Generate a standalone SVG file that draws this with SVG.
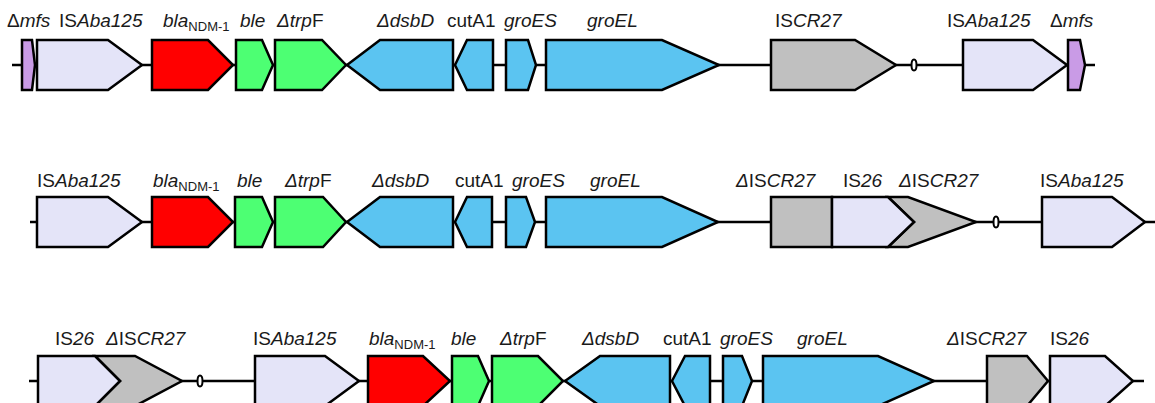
<svg xmlns="http://www.w3.org/2000/svg" width="1155" height="403" viewBox="0 0 1155 403">
<style>
.g{stroke:#000;stroke-width:2.5;stroke-linejoin:miter}
.lav{fill:#E4E4F8}.red{fill:#FF0000}.grn{fill:#4DFF73}.blu{fill:#5BC4F1}.gry{fill:#C0C0C0}.pur{fill:#C99BE6}
.bb{stroke:#000;stroke-width:2.5;fill:none}
.ov{fill:#fff;stroke:#000;stroke-width:2}
text{font-family:"Liberation Sans",Arial,sans-serif;font-size:19px;fill:#1a1a1a}
.i{font-style:italic}
.sub{font-size:13px}
</style>
<rect width="1155" height="403" fill="#fff"/>
<g id="connectors">
<line class="bb" x1="12" y1="65" x2="1095" y2="65"/>
<line class="bb" x1="30" y1="222" x2="1155" y2="222"/>
<line class="bb" x1="29" y1="381" x2="1144" y2="381"/>
<ellipse class="ov" cx="914" cy="65" rx="2.5" ry="5.5"/>
<ellipse class="ov" cx="996" cy="222" rx="2.5" ry="5.5"/>
<ellipse class="ov" cx="200" cy="381" rx="2.5" ry="5.5"/>
</g>
<!-- Row 1 -->
<g id="r1-mfs-a"><polygon class="g pur" points="22,40 32,40 35,65 32,90 22,90"/><text x="7" y="27"><tspan>Δ</tspan><tspan class="i">mfs</tspan></text></g>
<g id="r1-isaba125-a"><polygon class="g lav" points="37,40 108,40 142,65 108,90 37,90"/><text x="59" y="27">IS<tspan class="i">Aba125</tspan></text></g>
<g id="r1-bla"><polygon class="g red" points="152,40 208,40 233,65 208,90 152,90"/><text x="163" y="27"><tspan class="i">bla</tspan><tspan class="sub" dy="4">NDM-1</tspan></text></g>
<g id="r1-ble"><polygon class="g grn" points="236,40 262,40 273,65 262,90 236,90"/><text x="240" y="27" class="i">ble</text></g>
<g id="r1-trpF"><polygon class="g grn" points="275,40 322,40 346,65 322,90 275,90"/><text x="277" y="27"><tspan class="i">Δtrp</tspan>F</text></g>
<g id="r1-dsbD"><polygon class="g blu" points="347,65 380,40 453,40 453,90 380,90"/><text x="377" y="27" class="i">ΔdsbD</text></g>
<g id="r1-cutA1"><polygon class="g blu" points="455,65 467,40 493,40 493,90 467,90"/><text x="447" y="27">cutA1</text></g>
<g id="r1-groES"><polygon class="g blu" points="506,40 528,40 536,65 528,90 506,90"/><text x="504" y="27" class="i">groES</text></g>
<g id="r1-groEL"><polygon class="g blu" points="546,40 662,40 719,65 662,90 546,90"/><text x="587" y="27" class="i">groEL</text></g>
<g id="r1-iscr27"><polygon class="g gry" points="771,40 855,40 896,65 855,90 771,90"/><text x="775" y="27">IS<tspan class="i">CR27</tspan></text></g>
<g id="r1-isaba125-b"><polygon class="g lav" points="963,40 1033,40 1067,65 1033,90 963,90"/><text x="947" y="27">IS<tspan class="i">Aba125</tspan></text></g>
<g id="r1-mfs-b"><polygon class="g pur" points="1068,40 1080,40 1085,65 1080,90 1068,90"/><text x="1050" y="27"><tspan>Δ</tspan><tspan class="i">mfs</tspan></text></g>
<!-- Row 2 -->
<g id="r2-isaba125-a"><polygon class="g lav" points="37,197 108,197 142,222 108,247 37,247"/><text x="37" y="187">IS<tspan class="i">Aba125</tspan></text></g>
<g id="r2-bla"><polygon class="g red" points="152,197 208,197 233,222 208,247 152,247"/><text x="153" y="187"><tspan class="i">bla</tspan><tspan class="sub" dy="4">NDM-1</tspan></text></g>
<g id="r2-ble"><polygon class="g grn" points="235,197 262,197 273,222 262,247 235,247"/><text x="237" y="187" class="i">ble</text></g>
<g id="r2-trpF"><polygon class="g grn" points="275,197 323,197 346,222 323,247 275,247"/><text x="285" y="187"><tspan class="i">Δtrp</tspan>F</text></g>
<g id="r2-dsbD"><polygon class="g blu" points="347,222 380,197 453,197 453,247 380,247"/><text x="372" y="187" class="i">ΔdsbD</text></g>
<g id="r2-cutA1"><polygon class="g blu" points="455,222 467,197 492,197 492,247 467,247"/><text x="455" y="187">cutA1</text></g>
<g id="r2-groES"><polygon class="g blu" points="506,197 526,197 535,222 526,247 506,247"/><text x="512" y="187" class="i">groES</text></g>
<g id="r2-groEL"><polygon class="g blu" points="546,197 662,197 718,222 662,247 546,247"/><text x="590" y="187" class="i">groEL</text></g>
<g id="r2-discr27-a"><rect class="g gry" x="771" y="197" width="61" height="50"/><text x="736" y="187"><tspan class="i">Δ</tspan>IS<tspan class="i">CR27</tspan></text></g>
<g id="r2-discr27-b"><polygon class="g gry" points="888,197 908,197 976,222 908,247 888,247 914,222"/><text x="899" y="187"><tspan class="i">Δ</tspan>IS<tspan class="i">CR27</tspan></text></g>
<g id="r2-is26"><polygon class="g lav" points="832,197 888,197 914,222 888,247 832,247"/><text x="843" y="187">IS<tspan class="i">26</tspan></text></g>
<g id="r2-isaba125-b"><polygon class="g lav" points="1042,197 1112,197 1145,222 1112,247 1042,247"/><text x="1040" y="187">IS<tspan class="i">Aba125</tspan></text></g>
<!-- Row 3 -->
<g id="r3-discr27-a"><polygon class="g gry" points="95,356 135,356 182,381 135,406 95,406 120,381"/><text x="106" y="345"><tspan class="i">Δ</tspan>IS<tspan class="i">CR27</tspan></text></g>
<g id="r3-is26-a"><polygon class="g lav" points="38,356 95,356 120,381 95,406 38,406"/><text x="55" y="345">IS<tspan class="i">26</tspan></text></g>
<g id="r3-isaba125"><polygon class="g lav" points="255,356 325,356 359,381 325,406 255,406"/><text x="253" y="345">IS<tspan class="i">Aba125</tspan></text></g>
<g id="r3-bla"><polygon class="g red" points="368,356 423,356 450,381 423,406 368,406"/><text x="369" y="345"><tspan class="i">bla</tspan><tspan class="sub" dy="4">NDM-1</tspan></text></g>
<g id="r3-ble"><polygon class="g grn" points="452,356 478,356 489,381 478,406 452,406"/><text x="451" y="345" class="i">ble</text></g>
<g id="r3-trpF"><polygon class="g grn" points="492,356 538,356 563,381 538,406 492,406"/><text x="500" y="345"><tspan class="i">Δtrp</tspan>F</text></g>
<g id="r3-dsbD"><polygon class="g blu" points="565,381 600,356 670,356 670,406 600,406"/><text x="582" y="345" class="i">ΔdsbD</text></g>
<g id="r3-cutA1"><polygon class="g blu" points="672,381 685,356 710,356 710,406 685,406"/><text x="663" y="345">cutA1</text></g>
<g id="r3-groES"><polygon class="g blu" points="723,356 742,356 752,381 742,406 723,406"/><text x="720" y="345" class="i">groES</text></g>
<g id="r3-groEL"><polygon class="g blu" points="763,356 878,356 934,381 878,406 763,406"/><text x="797" y="345" class="i">groEL</text></g>
<g id="r3-discr27-b"><polygon class="g gry" points="987,356 1027,356 1048,381 1027,406 987,406"/><text x="947" y="345"><tspan class="i">Δ</tspan>IS<tspan class="i">CR27</tspan></text></g>
<g id="r3-is26-b"><polygon class="g lav" points="1050,356 1105,356 1133,381 1105,406 1050,406"/><text x="1050" y="345">IS<tspan class="i">26</tspan></text></g>
</svg>
